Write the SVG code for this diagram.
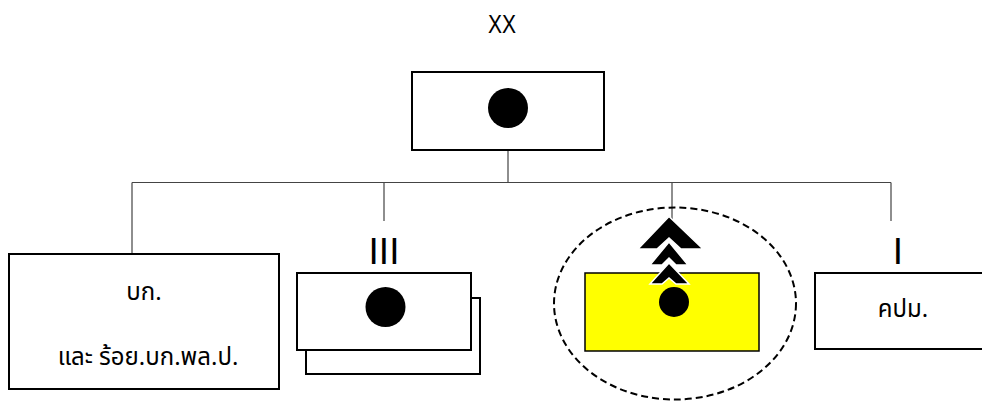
<svg xmlns="http://www.w3.org/2000/svg" width="982" height="401" viewBox="0 0 982 401">
<style>
.bg{fill:#ffffff}
.box{fill:#ffffff;stroke:#000000;stroke-width:2}
.ybox{fill:#ffff00;stroke:#000000;stroke-width:1.5}
.conn{fill:none;stroke:#444444;stroke-width:1.2}
.dot{fill:#000000}
.lbl{font-family:"Liberation Sans","Noto Sans",sans-serif;fill:#000000}
.thai{font-family:"Noto Sans Thai","Leelawadee UI","Tahoma","DejaVu Sans","Noto Sans",sans-serif;font-size:24px;fill:#000000;text-anchor:middle}
.roman{font-size:37px;text-anchor:middle}
.chev{fill:#000000;stroke:#ffffff;stroke-width:1.5;stroke-linejoin:miter}
</style>
<rect class="bg" x="0" y="0" width="982" height="401"/>
<text id="title" class="lbl" x="502" y="33" font-size="26" text-anchor="middle" textLength="28" lengthAdjust="spacingAndGlyphs">XX</text>
<g id="connectors">
<path class="conn" d="M508,144 V182.5 M132,182.5 H891 M132,182.5 V254 M384,182.5 V221 M672,182.5 V219 M891,182.5 V221"/>
</g>
<g id="top">
<rect class="box" x="412" y="72" width="192" height="78"/>
<circle class="dot" cx="508" cy="108" r="20"/>
</g>
<g id="left">
<rect class="box" x="9" y="254" width="270" height="135"/>
<text class="thai" x="144" y="300">บก.</text>
<text class="thai" x="148" y="365">และ ร้อย.บก.พล.ป.</text>
</g>
<g id="node-iii">
<text class="lbl roman" x="384" y="263.5">III</text>
<rect class="box" x="306" y="298" width="174" height="76"/>
<rect class="box" x="297" y="273" width="174" height="77"/>
<circle class="dot" cx="385.5" cy="307" r="20"/>
</g>
<g id="node-center">
<ellipse cx="675" cy="303.5" rx="121" ry="96" fill="none" stroke="#000000" stroke-width="2" stroke-dasharray="7,4"/>
<rect class="ybox" x="585" y="273" width="174" height="78"/>
<circle class="dot" cx="674" cy="302" r="15"/>
<polygon class="chev" points="669,263 689,284 676,284 669,278 662,284 650,284"/>
<polygon class="chev" points="669,242 688,265 676,265 669,258 662,265 650,265"/>
<polygon class="chev" points="669,216.5 703,249 681,249 669,238 657,249 638,249"/>
</g>
<g id="node-i">
<text class="lbl roman" x="898" y="263.5">I</text>
<rect class="box" x="815" y="273" width="180" height="76"/>
<text class="thai" x="903" y="317">คปม.</text>
</g>
</svg>
